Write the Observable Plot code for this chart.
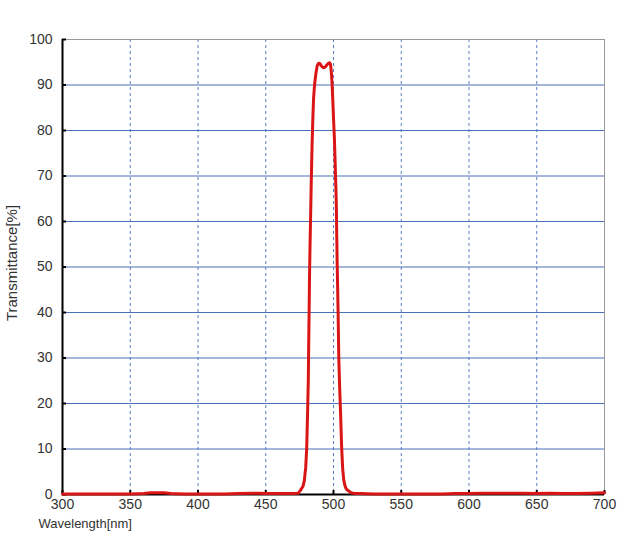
<!DOCTYPE html>
<html>
<head>
<meta charset="utf-8">
<script src="https://cdn.jsdelivr.net/npm/d3@7"></script>
<script src="https://cdn.jsdelivr.net/npm/@observablehq/plot@0.6"></script>
<style>
  body { margin: 0; background: #fff; }
  #chart svg { display: block; }
</style>
</head>
<body>
<div id="chart"></div>
<script>
// Transmission curve (wavelength in nm, transmittance in %)
const wavelength = [
  300, 310, 320, 330, 340, 350, 360, 365, 370, 375, 380, 390, 400, 410, 420, 430, 440, 445, 450, 460, 470,
  474, 475.6, 477.5, 478.5, 479.5, 480.2, 480.8, 481.4, 481.7, 482.0, 482.3, 482.7, 483.1, 483.6, 484.2,
  484.8, 485.3, 486, 487, 488, 489, 490, 491, 492, 493, 494, 495, 496, 497, 497.8, 498.4, 499, 499.5,
  500.1, 500.7, 501.3, 502, 502.7, 503.4, 503.9, 504.6, 505.2, 506, 506.8, 507.6, 508.5, 509.5, 511, 513,
  516, 520, 530, 540, 550, 560, 570, 580, 590, 600, 610, 620, 630, 640, 650, 660, 670, 680, 690, 700
];
const transmittance = [
  0.1, 0.1, 0.1, 0.1, 0.1, 0.1, 0.2, 0.4, 0.4, 0.4, 0.2, 0.1, 0.1, 0.1, 0.1, 0.2, 0.3, 0.3, 0.2, 0.2, 0.2,
  0.3, 0.9, 1.8, 3.1, 6, 10, 17, 25, 33, 40, 48, 55, 61, 69, 77,
  83, 87, 90, 92.5, 94.3, 94.8, 94.7, 94.2, 93.9, 93.8, 94.0, 94.4, 94.7, 94.9, 94.6, 92.8, 90, 86.5,
  82, 78, 72, 65, 51, 40, 30, 23, 18, 10.5, 5.5, 3.1, 1.9, 1.2, 0.8, 0.4,
  0.2, 0.2, 0.1, 0.1, 0.1, 0.1, 0.1, 0.1, 0.2, 0.2, 0.3, 0.3, 0.3, 0.3, 0.2, 0.3, 0.2, 0.2, 0.3, 0.4
];

const xTicks = [300, 350, 400, 450, 500, 550, 600, 650, 700];
const yTicks = [0, 10, 20, 30, 40, 50, 60, 70, 80, 90, 100];
const xTitle = "Wavelength[nm]";
const yTitle = "Transmittance[%]";

const data = wavelength.map((w, i) => ({ w, t: transmittance[i] }));

const chart = Plot.plot({
  width: 630,
  height: 540,
  marginLeft: 62,
  marginRight: 26,
  marginTop: 39,
  marginBottom: 46,
  style: { fontFamily: "Arial, 'Liberation Sans', sans-serif", fontSize: "14px", color: "#333", background: "#fff" },
  x: { domain: [xTicks[0], xTicks[xTicks.length - 1]] },
  y: { domain: [yTicks[0], yTicks[yTicks.length - 1]] },
  marks: [
    Plot.gridY(yTicks.slice(1, -1), { stroke: "#4a6fba", strokeOpacity: 1, strokeWidth: 1 }),
    Plot.gridX(xTicks.slice(1, -1), { stroke: "#4a6fba", strokeOpacity: 0.9, strokeDasharray: "3,3" }),
    Plot.frame({ stroke: "#999" }),
    Plot.ruleX([xTicks[0]], { stroke: "#000", strokeWidth: 2 }),
    Plot.ruleY([yTicks[0]], { stroke: "#000", strokeWidth: 2 }),
    Plot.axisY(yTicks, { tickSize: -4, tickPadding: 14, stroke: "#000", strokeWidth: 2, label: null, fill: "#333" }),
    Plot.axisX(xTicks, { tickSize: -4, tickPadding: 9, stroke: "#000", strokeWidth: 2, label: null, fill: "#333" }),
    Plot.line(data, { x: "w", y: "t", stroke: "#d91515", strokeWidth: 3, curve: "linear" }),
    Plot.text([xTitle], { frameAnchor: "bottom-left", textAnchor: "start", lineAnchor: "middle", dx: -24, dy: 29, fill: "#333", fontSize: 13 }),
    Plot.text([yTitle], { frameAnchor: "left", textAnchor: "middle", rotate: -90, lineAnchor: "middle", dx: -50, dy: -4, fill: "#333", fontSize: 15 })
  ]
});

document.getElementById("chart").appendChild(chart);
</script>
</body>
</html>
